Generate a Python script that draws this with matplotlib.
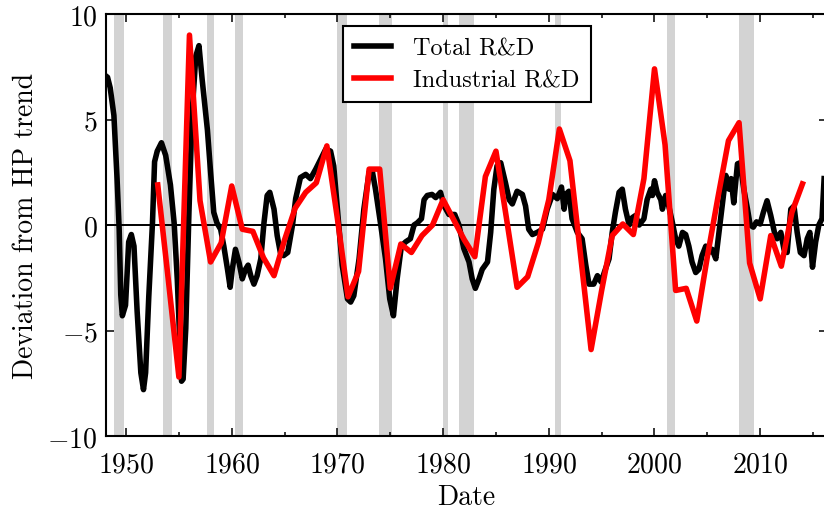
import matplotlib
matplotlib.use('Agg')
import matplotlib.pyplot as plt
from matplotlib.ticker import MultipleLocator

# Computer Modern look
plt.rcParams['font.family'] = 'cmr10'
plt.rcParams['mathtext.fontset'] = 'cm'
plt.rcParams['axes.formatter.use_mathtext'] = True

# Total R&D, quarterly-ish deviation from HP trend
total_years = [
    1948.0, 1948.25, 1948.5, 1948.85, 1949.15, 1949.35, 1949.5, 1949.65, 1949.95,
    1950.25, 1950.5, 1950.75, 1951.05, 1951.4, 1951.65, 1951.85, 1952.15, 1952.5,
    1952.7, 1952.95, 1953.35, 1953.75, 1954.2, 1954.55, 1954.85, 1955.1, 1955.25,
    1955.4, 1955.65, 1955.95, 1956.25, 1956.6, 1956.9, 1957.2, 1957.7, 1958.0,
    1958.3, 1958.6, 1958.95, 1959.25, 1959.6, 1959.85, 1960.05, 1960.35, 1960.7,
    1961.0, 1961.3, 1961.55, 1961.8, 1962.1, 1962.4, 1962.75, 1963.05, 1963.35,
    1963.6, 1964.0, 1964.3, 1964.6, 1964.9, 1965.3, 1965.75, 1966.05, 1966.5,
    1967.0, 1967.45, 1967.95, 1968.4, 1968.9, 1969.35, 1969.65, 1970.0, 1970.45,
    1970.95, 1971.25, 1971.55, 1972.05, 1972.5, 1973.0, 1973.3, 1973.6, 1974.1,
    1974.55, 1974.95, 1975.3, 1975.65, 1976.05, 1976.45, 1976.9, 1977.25, 1977.55,
    1977.95, 1978.2, 1978.5, 1978.95, 1979.3, 1979.75, 1980.1, 1980.55, 1981.1,
    1981.5, 1981.95, 1982.45, 1982.75, 1983.05, 1983.4, 1983.7, 1984.2, 1984.5,
    1984.8, 1985.1, 1985.45, 1985.9, 1986.25, 1986.55, 1987.0, 1987.5, 1987.8,
    1988.1, 1988.45, 1988.9, 1989.4, 1989.85, 1990.35, 1990.8, 1991.2, 1991.45,
    1991.6, 1991.9, 1992.2, 1992.7, 1993.15, 1993.5, 1993.8, 1994.25, 1994.6,
    1994.95, 1995.35, 1995.7, 1996.0, 1996.3, 1996.65, 1996.95, 1997.25, 1997.6,
    1997.9, 1998.2, 1998.55, 1999.0, 1999.3, 1999.65, 1999.8, 2000.0, 2000.25,
    2000.6, 2000.75, 2001.05, 2001.35, 2001.7, 2002.0, 2002.3, 2002.65, 2002.95,
    2003.25, 2003.55, 2003.9, 2004.2, 2004.5, 2004.85, 2005.15, 2005.45, 2005.8,
    2006.1, 2006.4, 2006.75, 2007.05, 2007.25, 2007.5, 2007.85, 2008.1, 2008.45,
    2008.8, 2009.05, 2009.35, 2009.65, 2010.0, 2010.3, 2010.65, 2011.0, 2011.35,
    2011.6, 2011.95, 2012.25, 2012.55, 2012.9, 2013.2, 2013.5, 2013.8, 2014.15,
    2014.45, 2014.7, 2014.95, 2015.25, 2015.55, 2015.85, 2016.05,
]
total_dev = [
    7.1, 7.0, 6.5, 5.2, 2.2, -0.2, -3.3, -4.3, -3.8,
    -0.8, -0.45, -1.0, -4.1, -7.0, -7.8, -7.0, -3.4, 0.1,
    3.0, 3.5, 3.9, 3.3, 1.9, 0.1, -2.6, -5.7, -7.4,
    -7.3, -4.9, 0.6, 5.3, 8.0, 8.5, 6.9, 4.5, 2.5,
    0.6, 0.1, -0.2, -1.0, -2.1, -2.95, -2.1, -1.15, -1.8,
    -2.55, -2.1, -1.9, -2.4, -2.8, -2.4, -1.6, 0.1, 1.4,
    1.55, 0.75, -0.5, -1.3, -1.45, -1.3, 0.0, 1.25, 2.25,
    2.4, 2.2, 2.65, 3.1, 3.6, 3.5, 2.8, 0.75, -1.9,
    -3.5, -3.65, -3.35, -1.6, 0.75, 2.5, 2.55, 1.7, 0.0,
    -1.6, -3.5, -4.3, -2.55, -1.0, -0.8, -0.65, 0.0, 0.1,
    0.3, 1.2, 1.4, 1.45, 1.3, 1.55, 0.9, 0.5, 0.5,
    0.0, -1.1, -1.75, -2.55, -3.0, -2.55, -2.1, -1.75, -0.35,
    1.7, 2.8, 2.95, 2.0, 1.2, 1.0, 1.6, 1.45, 0.9,
    -0.2, -0.45, -0.35, -0.2, 0.75, 1.45, 1.25, 1.8, 0.75,
    1.45, 1.6, 0.3, -0.35, -0.65, -1.9, -2.8, -2.8, -2.4,
    -2.7, -2.1, -1.6, -0.35, 0.6, 1.55, 1.7, 0.75, 0.0,
    0.35, 0.45, 0.0, 0.3, 1.2, 1.7, 1.4, 2.1, 1.55,
    1.2, 0.75, 1.4, 0.9, 0.1, -0.65, -1.0, -0.35, -0.45,
    -1.0, -1.75, -2.25, -2.1, -1.45, -1.0, -1.3, -1.15, -1.6,
    -0.35, 0.9, 2.35, 1.7, 2.2, 1.05, 2.9, 2.95, 1.7,
    0.75, 0.0, -0.1, 0.15, 0.05, 0.6, 1.15, 0.45, -0.35,
    -0.65, -0.35, -1.15, -1.3, 0.75, 0.9, -0.35, -1.3, -1.45,
    -0.65, -0.35, -2.0, -0.8, 0.0, 0.3, 2.2,
]

# Industrial R&D, annual
industrial_years = list(range(1953, 2015))
industrial_dev = [
    1.9, -2.6, -7.2, 9.0, 1.15, -1.75, -0.85, 1.85, -0.2, -0.3,
    -1.55, -2.4, -0.7, 0.8, 1.55, 2.0, 3.75, 0.3, -3.4, -2.2,
    2.65, 2.65, -3.0, -0.9, -1.3, -0.5, 0.0, 1.2, 0.25, -0.7,
    -1.5, 2.3, 3.5, 0.3, -2.95, -2.45, -0.85, 1.2, 4.55, 3.05,
    -1.4, -5.9, -3.1, -0.5, 0.05, -0.45, 2.2, 7.4, 3.8, -3.1,
    -3.0, -4.55, -1.5, 1.3, 4.0, 4.85, -1.8, -3.5, -0.5, -1.95,
    0.6, 1.95,
]

# NBER recessions (start, end)
recessions = [
    (1948.9, 1949.8), (1953.5, 1954.35), (1957.65, 1958.3), (1960.35, 1961.1),
    (1969.95, 1970.9), (1973.9, 1975.2), (1980.0, 1980.5), (1981.55, 1982.9),
    (1990.55, 1991.2), (2001.2, 2001.9), (2007.95, 2009.45),
]


def main():
    fig = plt.figure(figsize=(8.24, 5.10), dpi=100)
    ax = fig.add_axes([0.1286, 0.143, 0.8754, 0.8276])

    for start, end in recessions:
        ax.axvspan(start, end, color='#d3d3d3', lw=0, zorder=0)

    ax.axhline(0, color='black', lw=1.4, zorder=1)
    ax.plot(total_years, total_dev, color='black', lw=4.0, label='Total R&D', zorder=2)
    ax.plot(industrial_years, industrial_dev, color='red', lw=4.0, label='Industrial R&D', zorder=3)

    ax.set_xlim(1948.1, 2016.35)
    ax.set_ylim(-10, 10)
    ax.xaxis.set_major_locator(MultipleLocator(10))
    ax.xaxis.set_minor_locator(MultipleLocator(5))
    ax.yaxis.set_major_locator(MultipleLocator(5))
    ax.tick_params(which='both', direction='in', top=True, right=True, labelsize=20, width=1.1)
    ax.tick_params(which='major', length=6)
    ax.tick_params(which='minor', length=3.2)
    ax.tick_params(axis='x', which='major', pad=11)
    ax.tick_params(axis='y', which='major', pad=6)
    for s in ax.spines.values():
        s.set_linewidth(1.5)

    ax.set_xlabel('Date', fontsize=20, labelpad=4)
    ax.set_ylabel('Deviation from HP trend', fontsize=20, labelpad=6)

    leg = ax.legend(loc='upper center', fontsize=17.5, fancybox=False, framealpha=1,
                    edgecolor='black', handlelength=1.55, borderpad=0.45,
                    labelspacing=0.4, handletextpad=0.9)
    leg.get_frame().set_linewidth(1.5)

    fig.savefig('out.png', dpi=100)


if __name__ == "__main__":
    main()
